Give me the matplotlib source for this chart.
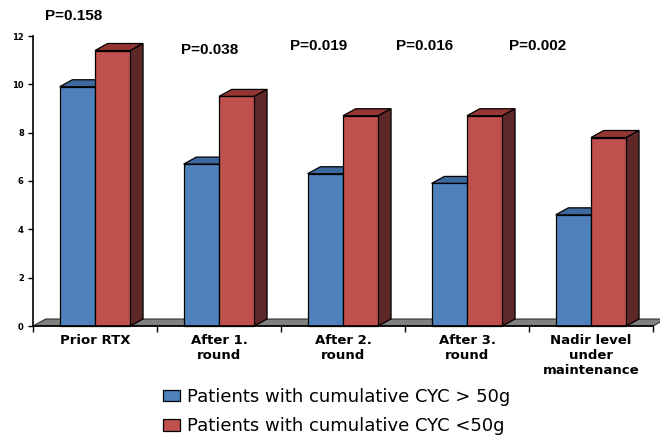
import matplotlib
matplotlib.use("Agg")
import matplotlib.pyplot as plt
from matplotlib.patches import Polygon
import numpy as np

categories = ["Prior RTX", "After 1.\nround", "After 2.\nround", "After 3.\nround",
              "Nadir level\nunder\nmaintenance"]
above_50g = [9.9, 6.7, 6.3, 5.9, 4.6]
below_50g = [11.4, 9.5, 8.7, 8.7, 7.8]
series_names = ["Patients with cumulative CYC > 50g", "Patients with cumulative CYC <50g"]
p_values = ["P=0.158", "P=0.038", "P=0.019", "P=0.016", "P=0.002"]

blue = "#4F81BD"
blue_top = "#3D6A9E"
blue_side = "#2C4D74"
red = "#C0504D"
red_top = "#943634"
red_side = "#5E2828"

W, H = 660, 437
fig = plt.figure(figsize=(W / 100, H / 100), dpi=100)
ax = fig.add_axes([33 / W, 111 / H, 620 / W, 290 / H])

ax.set_xlim(-0.5, 4.5)
ax.set_ylim(0, 12)

# depth of the fake 3d effect, in pixels -> data units
dx = 12.7 / (620 / 5)
dy = 7.0 / (290 / 12)

x = np.arange(len(categories))
bw = 0.285

# floor
floor = Polygon([(-0.5, 0), (4.5, 0), (4.5 + dx, dy), (-0.5 + dx, dy)], closed=True,
                facecolor="#808080", edgecolor="#333333", lw=0.8, clip_on=False, zorder=1)
ax.add_patch(floor)


def box3d(x0, h, face, top, side, z):
    x1 = x0 + bw
    ax.add_patch(Polygon([(x0, h), (x1, h), (x1 + dx, h + dy), (x0 + dx, h + dy)],
                         closed=True, facecolor=top, edgecolor="black", lw=0.9,
                         clip_on=False, zorder=z))
    ax.add_patch(Polygon([(x1, 0), (x1 + dx, dy), (x1 + dx, h + dy), (x1, h)],
                         closed=True, facecolor=side, edgecolor="black", lw=0.9,
                         clip_on=False, zorder=z))


for i in range(len(categories)):
    box3d(x[i] - bw, above_50g[i], blue, blue_top, blue_side, 2 + 4 * i)
    box3d(x[i], below_50g[i], red, red_top, red_side, 4 + 4 * i)

bars_b = ax.bar(x - bw, above_50g, width=bw, align="edge", color=blue,
                edgecolor="black", lw=0.9, label=series_names[0])
bars_r = ax.bar(x, below_50g, width=bw, align="edge", color=red,
                edgecolor="black", lw=0.9, label=series_names[1])
for i, (rb, rr) in enumerate(zip(bars_b, bars_r)):
    rb.set_zorder(3 + 4 * i)
    rr.set_zorder(5 + 4 * i)
    rb.set_clip_on(False)
    rr.set_clip_on(False)

# axes styling
for s in ["top", "right"]:
    ax.spines[s].set_visible(False)
ax.spines["left"].set_linewidth(1.2)
ax.spines["bottom"].set_linewidth(1.2)
ax.spines["bottom"].set_zorder(30)

ax.set_yticks(np.arange(0, 13, 2))
ax.tick_params(axis="y", length=3.6, width=1.0, pad=3, labelsize=6)
for lab in ax.get_yticklabels():
    lab.set_fontweight("bold")

ax.set_xticks(x)
ax.set_xticklabels(categories, fontsize=9.5, fontweight="bold", linespacing=1.2)
ax.tick_params(axis="x", which="major", length=0, pad=6)
ax.set_xticks(np.arange(-0.5, 5, 1), minor=True)
ax.tick_params(axis="x", which="minor", length=4, width=1.0)

# p-value annotations (pixel positions of their centres)
p_pos = [(73.5, 16.5), (209.5, 50), (318.5, 46), (424.5, 46), (538, 46)]
for txt, (px, py) in zip(p_values, p_pos):
    fig.text(px / W, 1 - py / H, txt, ha="center", va="center", fontsize=11,
             fontweight="bold", family="Liberation Sans")

fig.legend(handles=[bars_b, bars_r], loc="upper left",
           bbox_to_anchor=(163 / W, 1 - 388 / H), frameon=False, fontsize=13,
           handlelength=0.95, handleheight=0.6, handletextpad=0.4,
           labelspacing=0.62, borderpad=0, borderaxespad=0)

fig.savefig("out.png", dpi=100)
